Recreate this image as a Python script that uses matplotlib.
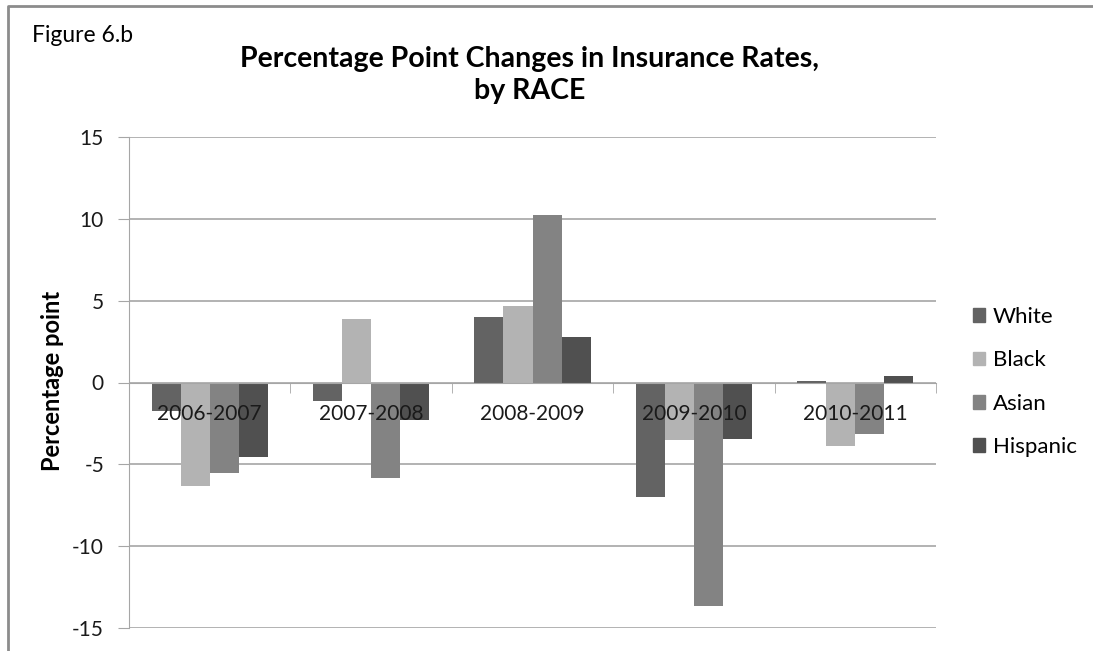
import numpy as np
import matplotlib.pyplot as plt
from matplotlib.patches import Patch
from matplotlib.lines import Line2D

periods = ["2006-2007", "2007-2008", "2008-2009", "2009-2010", "2010-2011"]
races = ["White", "Black", "Asian", "Hispanic"]
white = [-1.75, -1.1, 4.0, -6.98, 0.1]
black = [-6.33, 3.91, 4.7, -3.52, -3.91]
asian = [-5.56, -5.84, 10.26, -13.68, -3.12]
hispanic = [-4.54, -2.3, 2.77, -3.44, 0.38]
colors = ["#636363", "#b3b3b3", "#838383", "#505050"]

plt.rcParams["font.family"] = ["Lato", "DejaVu Sans"]
plt.rcParams["axes.unicode_minus"] = False

W, H = 1093, 651
fig = plt.figure(figsize=(W / 100, H / 100), dpi=100)
ax = fig.add_axes([129 / W, 1 - 628 / H, (936 - 129) / W, (628 - 137) / H])

x = np.arange(len(periods))
bw = 0.18
series = [white, black, asian, hispanic]
for i, (vals, c) in enumerate(zip(series, colors)):
    ax.bar(x + (i - 1.5) * bw, vals, bw, color=c, edgecolor=c, linewidth=0, zorder=2)

ax.set_xlim(-0.5, len(periods) - 0.5)
ax.set_ylim(-15, 15)
ax.set_yticks(np.arange(-15, 16, 5))
ax.yaxis.grid(True, color="#a6a6a6", linewidth=1.2, zorder=0)
ax.tick_params(axis="y", length=8, color="#a6a6a6", labelsize=15, pad=10, labelcolor="#1a1a1a")

# category axis sits on zero, labels overlap the bars
ax.spines["bottom"].set_position(("data", 0))
ax.spines["bottom"].set_color("#a6a6a6")
ax.spines["left"].set_color("#a6a6a6")
ax.spines["top"].set_visible(False)
ax.spines["right"].set_visible(False)
ax.set_xticks(x)
ax.set_xticklabels(periods)
ax.set_xticks(np.arange(-0.5, len(periods), 1), minor=True)
ax.tick_params(axis="x", which="major", length=0, labelsize=15, pad=15.5, labelcolor="#1a1a1a")
ax.tick_params(axis="x", which="minor", length=7, color="#a6a6a6")
ax.xaxis.set_zorder(5)

ax.set_ylabel("Percentage point", fontsize=17, fontweight="bold")
ax.yaxis.set_label_coords((64 - 129) / (936 - 129), (628 - 381) / (628 - 137))

fig.text(530 / W, 1 - 75 / H, "Percentage Point Changes in Insurance Rates,\nby RACE",
         ha="center", va="center", fontsize=20.5, fontweight="bold", linespacing=1.3)
fig.text(32 / W, 1 - 35 / H, "Figure 6.b", ha="left", va="center", fontsize=16.5)

handles = [Patch(facecolor=c, edgecolor=c) for c in colors]
fig.legend(handles, races, loc="center left", bbox_to_anchor=(973 / W, 1 - 382 / H),
           frameon=False, fontsize=16, handlelength=0.55, handleheight=0.55,
           handletextpad=0.35, labelspacing=1.05, borderaxespad=0, borderpad=0)

# chart frame: only top and left edges fall inside the image
fig.add_artist(Line2D([7.5 / W, 7.5 / W, 1.0], [0.0, 1 - 6 / H, 1 - 6 / H],
                      transform=fig.transFigure, color="#8c8c8c", linewidth=2))

fig.savefig("out.png", dpi=100)
